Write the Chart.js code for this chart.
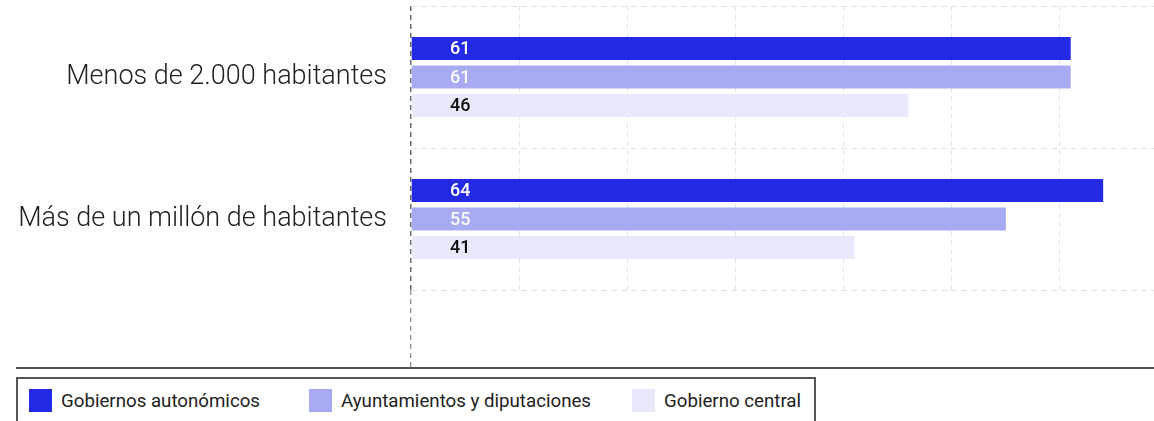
<!DOCTYPE html>
<html>
<head>
<meta charset="utf-8">
<script src="https://cdn.jsdelivr.net/npm/chart.js@4"></script>
<style>
  html, body { margin: 0; padding: 0; background: #fff; }
  #wrap { position: relative; width: 1154px; height: 421px; overflow: hidden; font-family: Roboto, sans-serif; color: #222; }
  #chartBox { position: absolute; left: 0; top: 0; width: 1154px; height: 368px; }
  #baseLine { position: absolute; left: 16px; top: 367px; width: 1138px; height: 2px; background: #505050; }
  #legend { position: absolute; left: 16px; top: 377px; width: 796px; height: 60px; border: 2px solid #555; box-sizing: content-box; }
  .item { position: absolute; top: 10px; height: 23px; display: flex; align-items: center; font-size: 18.7px; white-space: nowrap; }
  .sw { display: inline-block; width: 23px; height: 23px; margin-right: 9px; flex: none; }
</style>
</head>
<body>
<div id="wrap">
  <div id="chartBox"><canvas id="chart"></canvas></div>
  <div id="baseLine"></div>
  <div id="legend"></div>
</div>
<script>
/* ===== DATA ===== */
const categories = ["Menos de 2.000 habitantes", "Más de un millón de habitantes"];
const seriesNames = ["Gobiernos autonómicos", "Ayuntamientos y diputaciones", "Gobierno central"];
const autonomicos = [61, 64];
const ayuntamientos = [61, 55];
const central = [46, 41];
/* ================ */

const COLORS = ["#2429e3", "#a8aaf2", "#e8e9fb"];
const LABEL_COLORS = ["#ffffff", "rgba(255,255,255,0.92)", "#111111"];
const LEGEND_X = [11, 291, 614];

// legend built as html below the plot
const legend = document.getElementById("legend");
seriesNames.forEach((name, i) => {
  const el = document.createElement("div");
  el.className = "item";
  el.style.left = LEGEND_X[i] + "px";
  el.innerHTML = `<span class="sw" style="background:${COLORS[i]}"></span>${name}`;
  legend.appendChild(el);
});

// value written near the start of each bar
const valueLabels = {
  id: "valueLabels",
  afterDatasetsDraw(chart) {
    const ctx = chart.ctx;
    const left = chart.chartArea.left;
    ctx.save();
    ctx.font = "500 18px Roboto";
    ctx.textAlign = "left";
    ctx.textBaseline = "middle";
    chart.data.datasets.forEach((ds, di) => {
      const meta = chart.getDatasetMeta(di);
      ctx.fillStyle = LABEL_COLORS[di];
      meta.data.forEach((bar, i) => {
        ctx.fillText(String(ds.data[i]), left + 39, bar.y + 1);
      });
    });
    ctx.restore();
  }
};

const series = [autonomicos, ayuntamientos, central];

new Chart(document.getElementById("chart"), {
  type: "bar",
  data: {
    labels: categories,
    datasets: series.map((vals, i) => ({
      label: seriesNames[i],
      data: vals,
      backgroundColor: COLORS[i],
      categoryPercentage: 0.602,
      barPercentage: 0.807
    }))
  },
  options: {
    indexAxis: "y",
    responsive: true,
    maintainAspectRatio: false,
    animation: false,
    layout: { padding: { top: 6, left: 0, right: 0, bottom: 0 } },
    plugins: { legend: { display: false }, tooltip: { enabled: false } },
    scales: {
      x: {
        min: 0,
        max: 68.7,
        ticks: { display: false, stepSize: 10 },
        border: { display: false, dash: [5, 4] },
        grid: {
          color: (c) => c.index === 0 ? "#6e6e6e" : (c.tick && c.tick.value % 10 === 0 ? "#e4e4e4" : "rgba(0,0,0,0)"),
          lineWidth: (c) => c.index === 0 ? 1.5 : 1,
          drawTicks: true,
          tickLength: 78,
          tickWidth: 1,
          tickColor: (c) => c.index === 0 ? "#6e6e6e" : "rgba(0,0,0,0)",
          tickBorderDash: [5, 4]
        }
      },
      y: {
        grid: { offset: true, color: "#e4e4e4", drawTicks: false },
        border: { display: false, dash: [6, 4] },
        ticks: {
          padding: 24,
          color: "#222",
          font: { family: "Roboto", size: 27, weight: "300" }
        },
        afterFit: (s) => {
          s.width = 411;
          s.paddingTop = 0;
          s.paddingBottom = 0;
        }
      }
    }
  },
  plugins: [valueLabels]
});
</script>
</body>
</html>
